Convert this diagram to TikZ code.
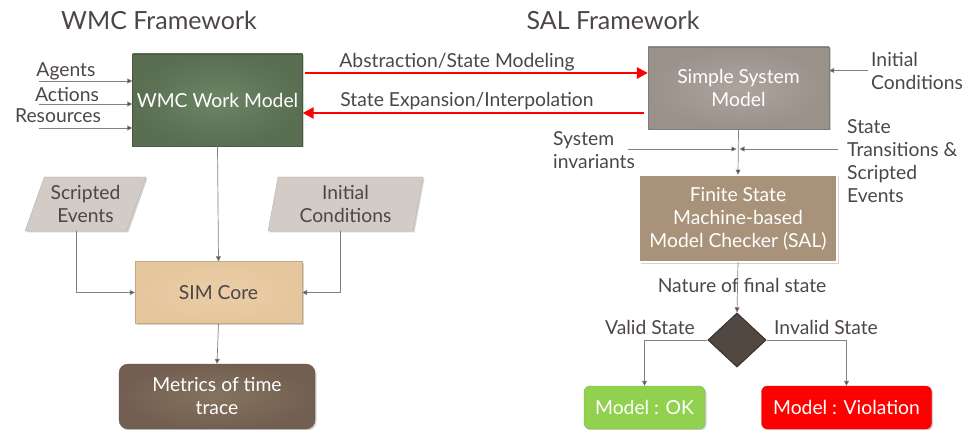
\documentclass[tikz,border=0pt]{standalone}
\usepackage{fontspec}
\setmainfont{Lato}
\usetikzlibrary{arrows.meta,shapes.geometric,shadows,calc}
\definecolor{txt}{HTML}{4D4646}
\definecolor{linegray}{HTML}{858080}
\definecolor{tipgray}{HTML}{4D4646}
\definecolor{wmcin}{HTML}{6C8464}
\definecolor{wmcout}{HTML}{5A6E52}
\definecolor{ssmin}{HTML}{ADA49E}
\definecolor{ssmout}{HTML}{9A918B}
\definecolor{fsmfill}{HTML}{A8927A}
\definecolor{simin}{HTML}{EACDA8}
\definecolor{simout}{HTML}{E6C69C}
\definecolor{metin}{HTML}{85735F}
\definecolor{metout}{HTML}{725F51}
\definecolor{parfill}{HTML}{D3CBC5}
\definecolor{diafill}{HTML}{524842}
\definecolor{diaborder}{HTML}{3E3531}
\definecolor{okgreen}{HTML}{92D050}
\definecolor{vred}{HTML}{FF0000}
\begin{document}
\begin{tikzpicture}[x=1pt,y=-1pt,
  font=\fontsize{19.3}{23}\selectfont, text=txt,
  conn/.style={draw=linegray, line width=0.7pt, -{Triangle[length=5pt,width=5pt,fill=tipgray]}},
  redarr/.style={draw=vred, line width=2.6pt, -{Triangle[length=11pt,width=11pt]}},
  title/.style={font=\fontsize{25}{28}\selectfont},
  lbl/.style={inner sep=0pt, align=left},
  sh/.style={drop shadow={opacity=0.35, shadow xshift=1.5pt, shadow yshift=-1.5pt}},
  box/.style={rectangle, inner sep=2pt, align=center, sh},
  par/.style={trapezium, trapezium stretches=true, fill=parfill, draw=parfill!85!black, line width=0.3pt,
    minimum height=54pt, inner sep=1pt, align=center, sh}
]
\useasboundingbox (0,0) rectangle (971,430);

% titles
\node[title] (t1) at (159,20) {WMC Framework};
\node[title] (t2) at (613,20) {SAL Framework};

% WMC side
\node[box, inner color=wmcin, outer color=wmcout, draw=wmcout!80!black, line width=0.3pt,
  minimum width=170pt, minimum height=92pt, text=white] (wmc) at (217.5,100) {WMC Work Model};

\node[lbl] (ag) at (66,71) {Agents};
\node[lbl] (ac) at (67,95) {Actions};
\node[lbl] (rs) at (58,116) {Resources};
\coordinate (agc) at (39,81);
\coordinate (acc) at (39,104);
\coordinate (rsc) at (39,128);
\draw[conn] (agc) -- (agc -| wmc.west);
\draw[conn] (acc) -- (acc -| wmc.west);
\draw[conn] (rsc) -- (rsc -| wmc.west);

\node[par, trapezium left angle=67, trapezium right angle=113, minimum width=121pt] (se) at (85.5,204) {Scripted\\Events};
\node[par, trapezium left angle=80, trapezium right angle=100, minimum width=155pt] (ic1) at (345.5,204) {Initial\\Conditions};

\node[box, inner color=simin, outer color=simout, draw=simout!85!black, line width=0.3pt,
  minimum width=167pt, minimum height=62pt] (sim) at (218.5,292.5) {SIM Core};

\node[box, rounded corners=9pt, inner color=metin, outer color=metout, draw=metout!85!black, line width=0.3pt,
  minimum width=196pt, minimum height=65pt, text=white] (met) at (217,396.5) {Metrics of time\\trace};

\draw[conn] (wmc.south) -- (sim.north);
\draw[conn] (se.bottom side) |- (sim.west);
\draw[conn] (ic1.bottom side) |- (sim.east);
\draw[conn] (sim.south) -- (met.north);

% SAL side
\node[box, inner color=ssmin, outer color=ssmout, draw=ssmout!85!black, line width=0.3pt,
  minimum width=181pt, minimum height=82pt, text=white] (ssm) at (738.5,88) {Simple System\\Model};

\coordinate (ra1) at (305,73);
\coordinate (ra2) at (644,113);
\draw[redarr] (ra1) -- (ra1 -| ssm.west);
\draw[redarr] (ra2) -- (ra2 -| wmc.east);
\node[lbl] (l1) at (457,62) {Abstraction/State Modeling};
\node[lbl] (l2) at (467,101) {State Expansion/Interpolation};

\node[lbl, anchor=west] (ic2) at (871,70.5) {Initial\\Conditions};
\draw[conn] ([xshift=-3pt]ic2.west) -- (ic2.west -| ssm.east);

\node[box, fill=fsmfill, draw=fsmfill!60!white, double=white, double distance=1.6pt, line width=0.6pt,
  minimum width=198pt, minimum height=87pt, text=white] (fsm) at (738,218.5) {Finite State\\Machine-based\\Model Checker (SAL)};

\draw[conn] (ssm.south) -- (fsm.north);

\node[lbl, anchor=west] (si) at (553,150.5) {System\\invariants};
\node[lbl, anchor=west] (st) at (847,161.5) {State\\Transitions \&\\Scripted\\Events};
\coordinate (sic) at (628,149);
\coordinate (stc) at (838,149);
\draw[conn, shorten >=1.5pt] (sic) -- (sic -| fsm.north);
\draw[conn, shorten >=1.5pt] (stc) -- (stc -| fsm.north);

\node[lbl] (nat) at (742,285) {Nature of final state};

\node[diamond, fill=diafill, draw=diaborder, line width=1.2pt, minimum width=58pt, minimum height=54pt, inner sep=0pt] (dec) at (737,340) {};
\draw[conn] (fsm.south) -- (dec.north);

\node[box, rounded corners=6pt, fill=okgreen, draw=okgreen!85!black, line width=0.3pt,
  minimum width=121pt, minimum height=43pt, text=white] (ok) at (644.5,407.5) {Model : OK};
\node[box, rounded corners=6pt, fill=vred, draw=vred!85!black, line width=0.3pt,
  minimum width=170pt, minimum height=43pt, text=white] (vio) at (846.5,407.5) {Model : Violation};

\draw[conn] (dec.west) -| (ok.north);
\draw[conn] (dec.east) -| (vio.north);
\node[lbl] (vs) at (650,327) {Valid State};
\node[lbl] (is) at (826,327) {Invalid State};
\end{tikzpicture}
\end{document}
